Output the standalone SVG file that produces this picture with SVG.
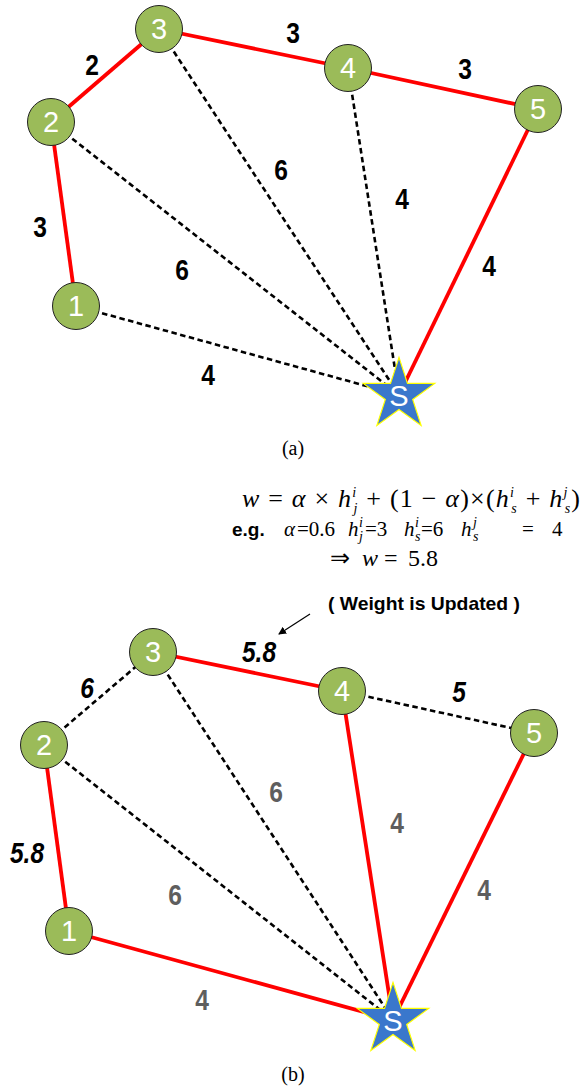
<svg xmlns="http://www.w3.org/2000/svg" width="580" height="1092" viewBox="0 0 580 1092">
<style>
.red{stroke:#ff0000;stroke-width:3.8;fill:none}
.dash{stroke:#000;stroke-width:2.6;stroke-dasharray:5.5 3.5;fill:none}
.node{fill:#9bbb59;stroke:#222;stroke-width:1}
.nt{font-family:"Liberation Sans",Arial,sans-serif;font-size:29px;fill:#fff;text-anchor:middle}
.star{fill:#3a77cc;stroke:#ffff00;stroke-width:1.2}
.lb{font-family:"Liberation Sans",Arial,sans-serif;font-size:30px;font-weight:bold;fill:#000;text-anchor:middle}
.li{font-family:"Liberation Sans",Arial,sans-serif;font-size:30px;font-weight:bold;font-style:italic;fill:#000;text-anchor:middle}
.lg{font-family:"Liberation Sans",Arial,sans-serif;font-size:30px;font-weight:bold;fill:#5e5e5e;text-anchor:middle}
.cap{font-family:"Liberation Serif","Times New Roman",serif;font-size:20px;fill:#000;text-anchor:middle}
.m{font-family:"Liberation Serif","Times New Roman",serif;font-size:26px;fill:#000}
.m2{font-family:"Liberation Serif","Times New Roman",serif;font-size:21px;fill:#000}
.m3{font-family:"Liberation Serif","Times New Roman",serif;font-size:24px;fill:#000}
.it{font-style:italic}
.s{font-size:14px;font-style:italic}
.eg{font-family:"Liberation Sans",Arial,sans-serif;font-size:19px;font-weight:bold;fill:#000}
</style>
<defs>
<path id="starShape" d="M0,-37.6 L8.46,-11.65 L35.76,-11.62 L13.70,4.45 L22.10,30.42 L0,14.4 L-22.10,30.42 L-13.70,4.45 L-35.76,-11.62 L-8.46,-11.65 Z"/>
<marker id="arr" markerWidth="8" markerHeight="8" refX="7" refY="4" orient="auto" markerUnits="userSpaceOnUse">
<path d="M0,0 L8,4 L0,8 Z" fill="#000"/>
</marker>
</defs>

<!-- (a) connectors -->
<g id="connectors-a">
<line class="dash" x1="51" y1="122" x2="399" y2="395"/>
<line class="dash" x1="159" y1="29" x2="399" y2="395"/>
<line class="dash" x1="348" y1="68" x2="399" y2="395"/>
<line class="dash" x1="76" y1="306" x2="399" y2="395"/>
<line class="red" x1="51" y1="122" x2="159" y2="29"/>
<line class="red" x1="159" y1="29" x2="348" y2="68"/>
<line class="red" x1="348" y1="68" x2="538" y2="109"/>
<line class="red" x1="538" y1="109" x2="399" y2="395"/>
<line class="red" x1="51" y1="122" x2="76" y2="306"/>
</g>

<g id="a-node1"><circle class="node" cx="76" cy="306" r="23.5"/><text class="nt" x="76" y="316">1</text></g>
<g id="a-node2"><circle class="node" cx="51" cy="122" r="23.5"/><text class="nt" x="51" y="132">2</text></g>
<g id="a-node3"><circle class="node" cx="159" cy="29" r="23.5"/><text class="nt" x="159" y="39">3</text></g>
<g id="a-node4"><circle class="node" cx="348" cy="68" r="23.5"/><text class="nt" x="348" y="78">4</text></g>
<g id="a-node5"><circle class="node" cx="538" cy="109" r="23.5"/><text class="nt" x="538" y="119">5</text></g>
<g id="a-nodeS"><use href="#starShape" class="star" transform="translate(399,395)"/><text class="nt" x="399" y="406">S</text></g>

<g id="a-labels">
<text class="lb" transform="translate(92,75) scale(0.82,1)">2</text>
<text class="lb" transform="translate(293,43) scale(0.82,1)">3</text>
<text class="lb" transform="translate(465,79) scale(0.82,1)">3</text>
<text class="lb" transform="translate(281,180) scale(0.82,1)">6</text>
<text class="lb" transform="translate(402,209) scale(0.82,1)">4</text>
<text class="lb" transform="translate(489,276) scale(0.82,1)">4</text>
<text class="lb" transform="translate(40,237) scale(0.82,1)">3</text>
<text class="lb" transform="translate(182,280) scale(0.82,1)">6</text>
<text class="lb" transform="translate(208,385) scale(0.82,1)">4</text>
</g>
<text class="cap" x="293" y="455">(a)</text>

<!-- formula -->
<g id="formula">
<text class="m" x="242" y="507" textLength="338" lengthAdjust="spacing"><tspan class="it">w</tspan> = <tspan class="it">α</tspan> × <tspan class="it">h</tspan><tspan class="s" dy="-10">i</tspan><tspan class="s" dx="-3.9" dy="16">j</tspan><tspan dy="-6"> + (1 − </tspan><tspan class="it">α</tspan>)×(<tspan class="it">h</tspan><tspan class="s" dy="-10">i</tspan><tspan class="s" dx="-3.9" dy="16">s</tspan><tspan dy="-6"> + </tspan><tspan class="it">h</tspan><tspan class="s" dy="-10">j</tspan><tspan class="s" dx="-3.9" dy="16">s</tspan><tspan dy="-6">)</tspan></text>

<text class="eg" x="232" y="536">e.g.</text>
<text class="m2" y="536"><tspan class="it" x="284">α</tspan><tspan x="297">=0.6</tspan><tspan class="it" x="348">h</tspan><tspan class="s" x="359" dy="-9">i</tspan><tspan class="s" x="359" dy="14">j</tspan><tspan x="365" dy="-5">=3</tspan><tspan class="it" x="404">h</tspan><tspan class="s" x="415" dy="-9">i</tspan><tspan class="s" x="415" dy="14">s</tspan><tspan x="421" dy="-5">=6</tspan><tspan class="it" x="461">h</tspan><tspan class="s" x="473" dy="-9">j</tspan><tspan class="s" x="473" dy="14">s</tspan><tspan x="522" dy="-5">=</tspan><tspan x="552">4</tspan></text>

<text class="m3" y="566"><tspan x="330">⇒</tspan><tspan class="it" x="362">w</tspan><tspan x="384">=</tspan><tspan x="408">5.8</tspan></text>

<text class="eg" x="328" y="610" textLength="192" lengthAdjust="spacingAndGlyphs">( Weight is Updated )</text>
<line x1="310" y1="614" x2="279" y2="634" stroke="#000" stroke-width="1.2" marker-end="url(#arr)"/>
</g>

<!-- (b) connectors -->
<g id="connectors-b">
<line class="dash" x1="44" y1="745" x2="393" y2="1020"/>
<line class="dash" x1="153" y1="652" x2="393" y2="1020"/>
<line class="dash" x1="44" y1="745" x2="153" y2="652"/>
<line class="dash" x1="342" y1="691" x2="534" y2="733"/>
<line class="red" x1="153" y1="652" x2="342" y2="691"/>
<line class="red" x1="44" y1="745" x2="69" y2="931"/>
<line class="red" x1="69" y1="931" x2="393" y2="1020"/>
<line class="red" x1="342" y1="691" x2="393" y2="1020"/>
<line class="red" x1="534" y1="733" x2="393" y2="1020"/>
</g>

<g id="b-node1"><circle class="node" cx="69" cy="931" r="23.5"/><text class="nt" x="69" y="941">1</text></g>
<g id="b-node2"><circle class="node" cx="44" cy="745" r="23.5"/><text class="nt" x="44" y="755">2</text></g>
<g id="b-node3"><circle class="node" cx="153" cy="652" r="23.5"/><text class="nt" x="153" y="662">3</text></g>
<g id="b-node4"><circle class="node" cx="342" cy="691" r="23.5"/><text class="nt" x="342" y="701">4</text></g>
<g id="b-node5"><circle class="node" cx="534" cy="733" r="23.5"/><text class="nt" x="534" y="743">5</text></g>
<g id="b-nodeS"><use href="#starShape" class="star" transform="translate(393,1020)"/><text class="nt" x="393" y="1031">S</text></g>

<g id="b-labels">
<text class="li" transform="translate(259,662) scale(0.82,1)">5.8</text>
<text class="li" transform="translate(87,698) scale(0.82,1)">6</text>
<text class="li" transform="translate(459,702) scale(0.82,1)">5</text>
<text class="li" transform="translate(27,863) scale(0.82,1)">5.8</text>
<text class="lg" transform="translate(276,802) scale(0.82,1)">6</text>
<text class="lg" transform="translate(397,833) scale(0.82,1)">4</text>
<text class="lg" transform="translate(175,905) scale(0.82,1)">6</text>
<text class="lg" transform="translate(484,900) scale(0.82,1)">4</text>
<text class="lg" transform="translate(202,1010) scale(0.82,1)">4</text>
</g>
<text class="cap" x="293" y="1081">(b)</text>
</svg>
